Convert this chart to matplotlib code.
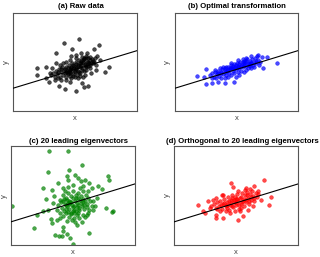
import matplotlib
matplotlib.use("Agg")
import matplotlib.pyplot as plt
import numpy as np

plt.rcParams['font.family'] = ['Liberation Sans', 'DejaVu Sans']

# fitted line shared by all panels
line_intercept = 6.9
line_slope = 0.305

# (a) raw data
a_x = [19.7, 15.2, 17.7, 12.8, 24.2, 25.7, 18.8, 17.5, 25.2, 26.2, 7.2, 7.2, 10.0, 12.8, 28.8, 27.6,
       23.4, 15.5, 19.0, 13.7, 21.3, 22.6, 20.7, 10.0, 10.8, 11.8, 22.1, 21.3, 16.0, 24.0, 17.0, 12.7,
       25.0, 19.5, 11.5,
       12.0, 12.8, 13.3, 13.8, 14.0, 14.5, 14.8, 15.0, 15.2, 15.5, 15.8, 16.0, 16.2, 16.5, 16.6, 16.8,
       17.0, 17.2, 17.4, 17.6, 17.8, 18.0, 18.2, 18.4, 18.6, 18.8, 19.0, 19.2, 19.4, 19.6, 19.8, 20.0,
       20.2, 20.4, 20.6, 20.8, 21.0, 21.2, 21.4, 21.6, 21.8, 22.0, 22.2, 22.4, 22.6, 22.8, 23.0, 23.2,
       23.5, 23.8, 24.2, 24.5, 24.8, 13.5, 14.5, 17.5, 18.5, 20.0, 21.0, 15.0, 16.0, 14.0, 23.0, 21.5,
       12.5, 11.0, 19.0, 17.0, 20.5,
       16.0, 17.0, 18.0, 19.0, 20.0, 21.0, 22.0, 17.5, 18.5, 19.5, 20.5, 21.5, 22.5, 16.5, 15.5, 14.5,
       13.5, 19.8, 20.8, 21.8, 23.0, 24.0, 18.0, 17.0, 22.0, 16.8, 18.8, 20.3]
a_y = [21.9, 20.5, 18.6, 17.4, 18.9, 19.9, 16.8, 16.6, 16.7, 15.3, 12.9, 11.0, 13.4, 14.6, 13.4, 11.7,
       11.4, 6.8, 6.2, 7.6, 7.2, 7.6, 8.4, 10.1, 8.7, 12.9, 17.4, 15.9, 9.4, 14.4, 8.9, 9.4,
       12.4, 9.9, 10.9,
       11.6, 12.2, 11.1, 12.6, 10.4, 11.8, 13.2, 10.9, 12.4, 11.6, 13.4, 10.4, 12.2, 12.9, 11.2, 13.9,
       11.9, 10.6, 13.2, 12.4, 14.4, 11.2, 12.9, 13.6, 11.9, 14.9, 12.6, 10.9, 13.9, 12.2, 15.4, 13.2,
       11.6, 14.4, 16.2, 12.9, 14.9, 12.2, 15.6, 13.9, 16.6, 13.2, 14.9, 15.9, 13.6, 14.6, 15.4, 16.4,
       14.4, 15.6, 14.9, 15.9, 13.9, 9.9, 9.4, 9.9, 10.2, 10.6, 10.4, 14.4, 14.9, 13.9, 12.9, 10.9,
       10.4, 11.4, 15.9, 15.4, 17.4,
       11.8, 12.8, 13.9, 14.2, 14.6, 15.4, 16.0, 13.0, 12.2, 13.5, 13.9, 14.2, 14.9, 11.6, 12.8, 12.6,
       11.9, 11.8, 12.4, 13.6, 14.0, 15.2, 10.6, 11.4, 12.4, 12.0, 13.0, 15.2]

# (b) optimal transformation
b_x = [6.5, 9.3, 9.5, 8.8, 11.2, 13.0, 31.0, 27.7, 26.2, 26.5, 24.8, 23.0, 21.5, 20.8, 15.0, 18.0, 15.0,
       10.5, 11.2, 11.8, 12.2, 12.6, 13.0, 13.4, 13.8, 14.2, 14.6, 15.0, 15.2, 15.5, 15.8, 16.0, 16.3,
       16.6, 16.8, 17.0, 17.2, 17.5, 17.8, 18.0, 18.2, 18.5, 18.8, 19.0, 19.2, 19.5, 19.8, 20.0, 20.3,
       20.6, 20.8, 21.0, 21.3, 21.6, 21.8, 22.0, 22.3, 22.6, 22.8, 23.1, 23.4, 23.7, 24.0, 24.3, 24.6,
       25.0, 25.4, 25.8, 12.5, 14.0, 16.0, 19.5, 21.5, 23.0, 12.0, 14.5, 17.0, 19.0, 20.5, 18.5, 11.2,
       13.5, 24.0, 25.0,
       14.0, 15.0, 16.0, 17.0, 18.0, 19.0, 20.0, 21.0, 22.0, 23.0, 16.5, 17.5, 18.5, 19.5, 20.5, 21.5,
       15.5, 13.0, 22.5, 24.5]
b_y = [10.7, 12.6, 8.2, 10.4, 8.6, 8.9, 14.6, 16.2, 16.2, 12.9, 16.6, 16.7, 15.9, 15.1, 9.9, 8.9, 8.4,
       10.9, 11.6, 10.4, 11.9, 11.1, 12.2, 10.6, 11.6, 12.6, 11.2, 11.9, 12.9, 10.9, 12.2, 13.4, 11.6,
       12.6, 13.9, 10.9, 13.1, 12.2, 14.2, 11.6, 13.4, 12.6, 14.6, 11.9, 13.6, 12.9, 14.9, 12.2, 13.9,
       13.2, 14.4, 11.9, 14.9, 13.6, 15.6, 12.9, 14.4, 15.2, 13.6, 14.6, 15.6, 13.9, 14.9, 15.9, 14.4,
       15.4, 13.9, 14.9, 9.9, 9.9, 10.2, 10.9, 12.4, 12.9, 12.4, 13.4, 14.6, 15.4, 15.6, 10.4, 9.9,
       12.9, 13.4, 16.9,
       11.9, 12.4, 12.4, 12.9, 13.0, 13.4, 13.6, 13.9, 14.2, 14.6, 13.0, 13.6, 13.9, 14.2, 14.7, 15.2,
       13.4, 11.6, 14.0, 15.1]

# (c) 20 leading eigenvectors
c_x = [11.5, 17.2, 11.0, 17.5, 21.4, 29.2, 29.5, 27.2, 9.7, 12.4, 10.5, 0.4, 6.9, 7.7, 13.2, 15.2,
       16.7, 18.5, 23.5, 30.5, 30.4, 28.5, 14.5, 17.7, 24.7, 22.7, 21.2, 19.7, 12.2, 15.7, 13.7, 9.7,
       11.2, 25.7, 25.2, 24.2, 23.5, 22.2, 20.2, 19.2, 16.7, 14.2, 15.7, 17.2, 12.7,
       15.7, 16.5, 17.2, 17.9, 18.7, 19.5, 20.2, 20.9, 21.7, 22.5, 23.2, 15.5, 16.2, 16.9, 17.7, 18.5,
       19.2, 19.9, 20.7, 21.5, 22.2, 22.9, 23.7, 15.2, 15.9, 16.7, 17.5, 18.2, 18.9, 19.7, 20.5, 21.2,
       21.9, 22.7, 23.5, 14.7, 15.7, 16.5, 17.3, 18.1, 18.9, 19.7, 20.5, 21.5, 22.3, 14.2, 14.7, 24.2,
       18.2, 19.2, 16.7, 14.7, 20.7, 17.2, 18.7, 21.7, 16.2, 13.7, 23.2, 24.7, 17.5, 19.5, 18.5, 20.2,
       16.5,
       16.0, 17.0, 18.0, 19.0, 20.0, 21.0, 22.0, 16.5, 17.5, 18.5, 19.5, 20.5, 21.5, 17.0, 18.0, 19.0,
       20.0, 15.0, 23.0, 13.0, 12.0, 26.0, 21.0, 15.5]
c_y = [28.2, 28.0, 21.8, 22.5, 23.8, 20.5, 19.5, 16.8, 17.0, 16.3, 13.7, 11.7, 5.2, 9.0, 3.0, 2.6,
       3.2, 0.3, 3.7, 10.2, 9.8, 11.0, 2.8, 2.2, 10.5, 9.0, 7.0, 6.0, 6.5, 5.5, 7.5, 10.0,
       10.5, 14.0, 11.5, 17.0, 18.5, 19.5, 20.0, 21.0, 20.5, 18.5, 17.0, 19.5, 12.5,
       15.0, 14.0, 15.5, 14.5, 16.0, 15.0, 15.5, 14.5, 16.0, 15.0, 14.0, 13.0, 12.2, 13.5, 12.8, 14.0,
       13.2, 12.5, 13.5, 12.8, 13.2, 12.2, 13.0, 11.0, 10.2, 11.5, 10.8, 11.8, 10.5, 11.2, 10.5, 11.5,
       10.8, 11.2, 10.5, 9.5, 8.8, 9.5, 8.5, 9.2, 8.2, 9.0, 8.2, 9.0, 8.5, 12.0, 13.5, 11.5,
       7.5, 6.8, 7.2, 8.0, 17.0, 17.2, 18.0, 17.5, 16.0, 10.5, 16.0, 13.0, 12.2, 10.0, 10.0, 14.0,
       10.8,
       13.6, 12.4, 12.9, 11.6, 12.0, 12.4, 11.8, 12.0, 13.0, 11.2, 14.0, 11.0, 13.8, 9.8, 9.6, 9.5,
       9.6, 12.8, 9.5, 14.5, 7.8, 17.5, 19.0, 4.2]

# (d) orthogonal to 20 leading eigenvectors
d_x = [17.2, 26.9, 24.0, 21.5, 17.7, 14.5, 7.3, 8.7, 9.2, 10.2, 12.7, 29.0, 28.4, 26.2, 25.2, 14.7,
       12.5, 19.2, 20.7, 12.7, 10.9, 23.7, 22.2, 16.7,
       11.2, 11.9, 12.5, 13.0, 13.5, 13.9, 14.3, 14.7, 15.1, 15.5, 15.9, 16.2, 16.5, 16.8, 17.1, 17.4,
       17.7, 18.0, 18.3, 18.6, 18.9, 19.2, 19.5, 19.8, 20.1, 20.4, 20.7, 21.0, 21.3, 21.6, 21.9, 22.2,
       22.5, 22.8, 23.1, 23.4, 23.7, 24.1, 24.5, 24.9, 25.3, 13.7, 15.7, 18.2, 19.7, 11.7, 14.7, 19.2,
       21.2, 22.7, 17.3, 18.7, 20.2,
       15.0, 16.0, 17.0, 18.0, 19.0, 20.0, 21.0, 22.0, 23.0, 16.5, 17.5, 18.5, 19.5, 20.5, 21.5, 14.0,
       22.5, 24.0, 13.0, 16.0]
d_y = [18.5, 19.5, 17.5, 17.0, 17.2, 15.0, 12.0, 10.0, 9.5, 13.2, 14.0, 14.3, 12.0, 13.5, 16.0, 8.0,
       8.0, 7.5, 8.8, 9.0, 11.0, 11.5, 10.5, 9.5,
       11.5, 12.2, 11.0, 12.8, 11.7, 13.2, 10.8, 12.2, 13.7, 11.5, 12.8, 14.2, 10.5, 12.0, 13.5, 15.0,
       11.2, 12.8, 14.2, 11.8, 15.2, 13.0, 10.8, 14.0, 12.2, 15.5, 13.2, 11.5, 14.8, 12.8, 15.8, 14.0,
       12.2, 15.2, 13.5, 16.0, 14.5, 13.0, 15.5, 14.2, 15.2, 10.0, 10.0, 10.0, 10.0, 13.5, 15.0, 16.2,
       16.5, 16.8, 11.5, 13.8, 11.0,
       12.6, 12.0, 12.6, 13.4, 13.8, 14.4, 13.6, 14.8, 14.2, 13.1, 14.0, 12.4, 12.0, 12.8, 13.4, 11.8,
       13.2, 14.0, 10.8, 11.0]

titles = ["(a) Raw data", "(b) Optimal transformation",
          "(c) 20 leading eigenvectors", "(d) Orthogonal to 20 leading eigenvectors"]
colors = ["black", "blue", "green", "red"]
xs = [a_x, b_x, c_x, d_x]
ys = [a_y, b_y, c_y, d_y]

# axes boxes in figure fractions [left, bottom, width, height]
boxes = [[0.041, 0.568, 0.387, 0.381],
         [0.547, 0.568, 0.384, 0.381],
         [0.034, 0.047, 0.3875, 0.385],
         [0.544, 0.047, 0.3875, 0.385]]
title_pos = [(0.253, 0.975), (0.741, 0.975), (0.244, 0.450), (0.756, 0.450)]
ylab_pos = [(0.020, 0.758), (0.522, 0.758), (0.013, 0.238), (0.522, 0.240)]
xlab_pos = [(0.234, 0.540), (0.741, 0.540), (0.228, 0.019), (0.738, 0.019)]

fig = plt.figure(figsize=(3.2, 2.57), dpi=100)

for i in range(4):
    ax = fig.add_axes(boxes[i])
    c = colors[i]
    ax.scatter(xs[i], ys[i], s=7, facecolor=c, edgecolor=c, alpha=0.7, linewidths=0.4, zorder=2)
    lx = np.array([0, 37.2])
    ax.plot(lx, line_intercept + line_slope * lx, color="black", lw=0.8, zorder=3)
    ax.set_xlim(0, 37.2)
    ax.set_ylim(0, 29.6)
    ax.set_xticks([])
    ax.set_yticks([])
    for s in ax.spines.values():
        s.set_color("#555555")
        s.set_linewidth(0.8)
    fig.text(title_pos[i][0], title_pos[i][1], titles[i], ha="center", va="center",
             fontsize=5.6, fontweight="bold")
    fig.text(ylab_pos[i][0], ylab_pos[i][1], "y", ha="center", va="center",
             fontsize=5.5, rotation=90, color="#444444")
    fig.text(xlab_pos[i][0], xlab_pos[i][1], "x", ha="center", va="center",
             fontsize=5.5, color="#444444")

fig.savefig("out.png", dpi=100)
